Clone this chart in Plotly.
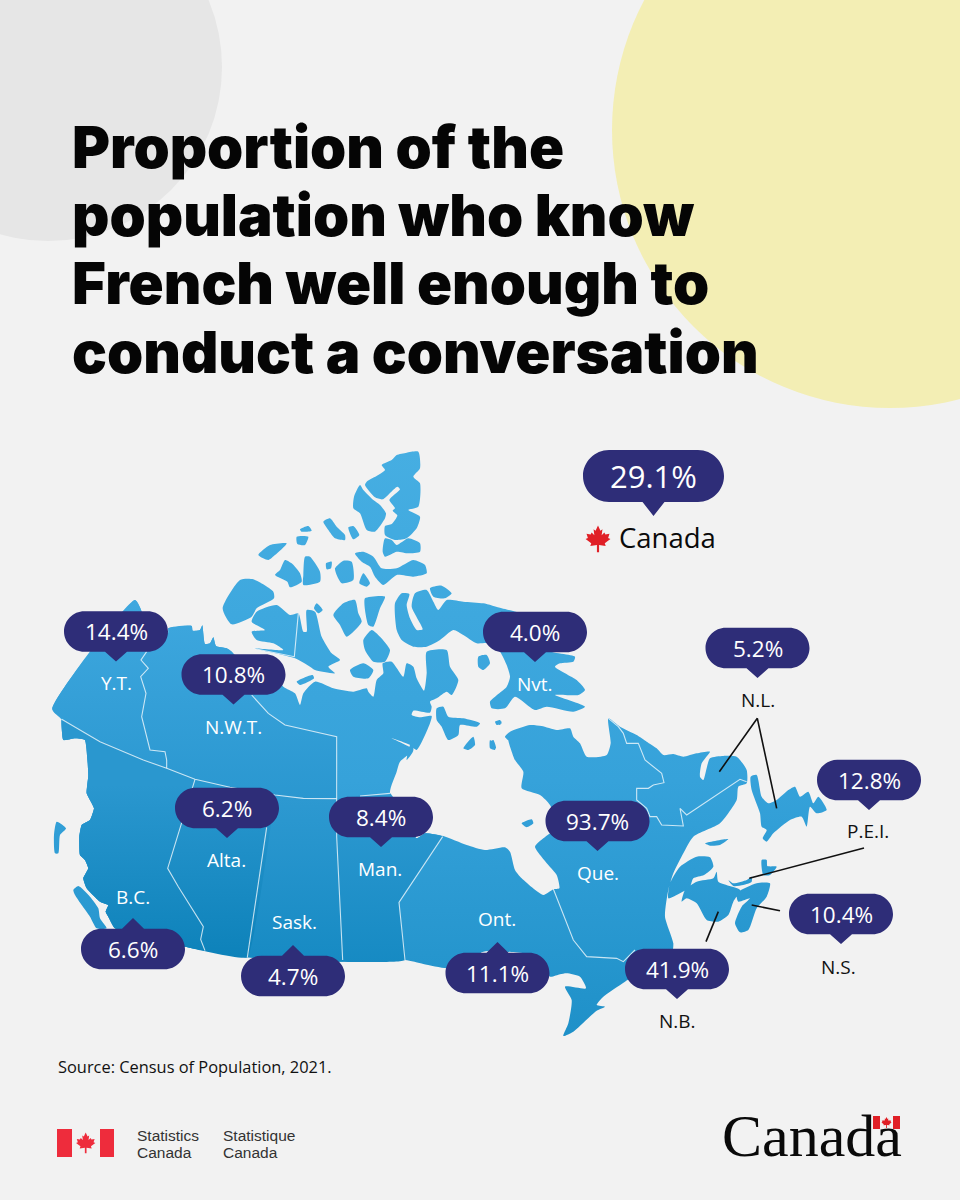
import plotly.graph_objects as go

# --- chart values
REGIONS = ["Y.T.", "N.W.T.", "Nvt.", "N.L.", "P.E.I.", "Que.", "Alta.", "Man.", "B.C.", "Sask.", "Ont.", "N.B.", "N.S."]
SHARES = [14.4, 10.8, 4.0, 5.2, 12.8, 93.7, 6.2, 8.4, 6.6, 4.7, 11.1, 41.9, 10.4]
CANADA_SHARE = 29.1

# centre of each pill and where its label sits, same order as REGIONS
PILL_X = [116, 233.5, 535, 757.5, 869, 597.5, 227, 381, 133, 293, 497.5, 677, 841]
PILL_Y = [631.5, 674.5, 632, 648, 780, 821, 808, 817, 949, 976, 973, 969, 914]
TIP_OFF = [30, 30, 30, 30, 30, 30, 30, 30, -31, -31, -31, 30, 30]
LABEL_X = [116, 233.5, 535, 758, 868, 597.5, 226, 380, 133, 294, 497, 677, 838]
LABEL_Y = [683, 727, 684, 700, 831, 873, 860, 869, 897, 922, 919, 1021, 967]
LABEL_DARK = [False, False, False, True, True, False, False, False, False, False, False, True, True]

TITLE_LINES = ["Proportion of the", "population who know", "French well enough to", "conduct a conversation"]
TITLE_Y = [147, 215, 283, 352]


def crop(x0, y0, pts):
    return [(x0 + a / 3, y0 + b / 3) for a, b in pts]


def z1(pts): return crop(40, 440, pts)
def z2(pts): return crop(200, 440, pts)
def z3(pts): return crop(40, 740, pts)
def z4(pts): return crop(340, 740, pts)
def z5(pts): return crop(480, 600, pts)


north_coast_west = z1([(37, 808), (285, 480), (305, 515), (300, 560), (385, 578), (385, 565), (455, 558), (458, 572),
                       (480, 570), (487, 556), (495, 612), (510, 610), (520, 592), (528, 618), (560, 625), (575, 635),
                       (590, 650), (700, 700)])

coast_bc = z3([(225, 565), (205, 530), (197, 515), (205, 495), (180, 485), (140, 445), (130, 415), (145, 385), (135, 360),
               (120, 345), (118, 290), (125, 255), (150, 240), (162, 205), (140, 160), (145, 105), (135, 0)]) + z1([(105, 895), (70, 900), (65, 840)])

south_coast_west = z4([(195, 660), (0, 665)]) + z3([(620, 652), (435, 620)]) + coast_bc

parallel_60 = z3([(175, 0), (380, 85), (465, 118), (570, 142), (705, 165), (790, 175)])

mainland = (
    north_coast_west
    + z2([(250, 740), (285, 760), (300, 795), (310, 760), (345, 725), (400, 745), (460, 755), (500, 745), (505, 755),
          (520, 770), (530, 720), (550, 700), (548, 670), (575, 665), (610, 710), (620, 670), (640, 680), (650, 715),
          (672, 752), (680, 700), (680, 635), (740, 630), (750, 680), (775, 720), (755, 765), (740, 755), (710, 775),
          (690, 785), (695, 800), (690, 818), (640, 812), (635, 825), (660, 832), (695, 828), (690, 850), (650, 930),
          (630, 915), (575, 895), (640, 930), (620, 960)])
    + z4([(215, 0), (220, 30), (180, 65), (170, 95), (150, 160), (230, 295), (255, 280), (310, 288), (380, 315),
          (435, 330), (495, 322), (510, 335), (525, 390), (545, 415), (610, 465), (640, 448), (658, 445), (650, 405),
          (625, 375), (585, 320), (610, 295), (650, 260), (630, 195), (600, 165), (545, 145), (550, 95), (525, 60),
          (505, 0)])
    + z5([(95, 430), (75, 410), (90, 395), (150, 375), (185, 378), (230, 390), (270, 385), (280, 410), (300, 430),
          (320, 470), (380, 465), (392, 430), (385, 355), (420, 380), (470, 405), (500, 425), (530, 445), (550, 465),
          (580, 462), (610, 470), (650, 460), (690, 455), (665, 490), (660, 530), (670, 540), (690, 475), (730, 468),
          (770, 470), (800, 510), (800, 550), (775, 560), (770, 600), (720, 670), (640, 710), (610, 760), (580, 820),
          (565, 870), (555, 950), (580, 1030), (575, 1060)])
    + z4([(855, 725), (790, 770), (770, 795), (795, 800), (770, 812), (700, 875), (670, 888), (685, 850), (695, 780),
          (675, 740), (738, 745), (720, 710), (680, 700), (660, 703), (630, 710), (600, 650), (500, 635), (450, 632),
          (425, 637), (380, 680), (320, 685), (250, 672)])
    + south_coast_west
)

# the picture's gradient leans toward the south west, so the western
# provinces get their own darker fills on top of the main land fill
nwt_block = north_coast_west + z1([(635, 765), (685, 820), (735, 855), (890, 890), (890, 960)]) + z3([(890, 176)]) + parallel_60[::-1]

prairie_block = (
    z3([(890, 176)])
    + z4([(150, 160), (230, 295), (255, 280), (308, 290), (177, 487)])
    + south_coast_west
    + parallel_60
)

bc_alberta_block = z3([(705, 165), (622, 652), (435, 620)]) + coast_bc + parallel_60[:-1]

baffin = (
    z2([(585, 490), (605, 460), (628, 462), (620, 495), (630, 535), (650, 570), (668, 568), (635, 500), (645, 460),
        (680, 450), (700, 485), (715, 510), (740, 480), (790, 485), (850, 490), (905, 505), (960, 520)])
    + z5([(200, 100), (200, 150), (285, 170), (280, 185), (240, 190), (225, 200), (290, 240), (315, 270), (295, 285),
          (225, 285), (315, 320), (280, 335), (200, 320), (165, 330), (105, 290), (75, 325), (35, 325), (30, 305),
          (80, 260), (90, 230), (80, 195), (60, 155), (25, 130)])
    + z2([(830, 610), (790, 585), (760, 570), (720, 600), (680, 620), (640, 620), (605, 600), (590, 570)])
)

islands = [
    z3([(100, 450), (115, 438), (150, 470), (175, 505), (180, 535), (200, 565), (170, 565), (150, 530), (125, 495), (105, 465)]),
    z3([(50, 245), (78, 265), (60, 285), (55, 340), (45, 340), (42, 285)]),
    z2([(120, 420), (160, 418), (220, 455), (222, 475), (170, 505), (155, 530), (95, 553), (68, 505)]),
    z2([(160, 625), (250, 630), (220, 610), (170, 600), (155, 575), (195, 570), (155, 545), (170, 515), (230, 495),
        (270, 525), (295, 520), (310, 575), (320, 575), (320, 510), (345, 515), (365, 590), (395, 640), (420, 660),
        (385, 680), (405, 700), (345, 690), (330, 680), (285, 655)]),
    z2([(655, 35), (620, 38), (590, 45), (575, 60), (545, 75), (555, 90), (535, 105), (500, 125), (495, 135), (525, 172),
        (548, 178), (592, 140), (600, 148), (568, 180), (585, 205), (578, 212), (592, 226), (575, 252), (555, 258),
        (555, 285), (585, 300), (620, 295), (650, 265), (660, 230), (625, 210), (655, 200), (660, 130), (640, 110), (660, 85)]),
    z2([(480, 135), (462, 170), (460, 205), (480, 220), (500, 270), (525, 275), (555, 235), (558, 220), (540, 195), (520, 180), (490, 150)]),
    z2([(555, 295), (575, 300), (590, 315), (625, 295), (660, 310), (660, 335), (625, 340), (590, 335), (555, 350), (548, 335)]),
    z2([(465, 340), (490, 335), (520, 350), (545, 385), (590, 385), (640, 360), (675, 375), (680, 400), (640, 410),
        (590, 405), (550, 435), (525, 410), (510, 380), (485, 365)]),
    z2([(490, 400), (510, 430), (500, 440), (478, 430)]),
    z2([(175, 345), (210, 315), (260, 310), (225, 345), (205, 360)]),
    z2([(255, 360), (275, 370), (300, 400), (305, 425), (270, 442), (262, 425), (225, 405), (240, 390)]),
    z2([(315, 350), (330, 350), (360, 395), (360, 425), (310, 435), (310, 405)]),
    z2([(370, 245), (390, 235), (410, 260), (435, 285), (435, 300), (405, 295), (385, 270)]),
    z2([(445, 262), (460, 258), (478, 285), (460, 298)]),
    z2([(290, 290), (325, 290), (315, 315), (292, 312)]),
    z2([(300, 268), (325, 258), (335, 272), (305, 275)]),
    z2([(405, 385), (430, 362), (455, 365), (460, 420), (425, 430), (410, 405)]),
    z2([(378, 370), (395, 365), (393, 385), (380, 388)]),
    z2([(400, 525), (430, 490), (465, 480), (475, 520), (485, 545), (440, 590), (420, 555)]),
    z2([(495, 475), (555, 470), (540, 505), (520, 560), (505, 555), (495, 510)]),
    z2([(490, 600), (515, 570), (540, 590), (570, 630), (555, 665), (520, 665), (495, 630)]),
    z2([(450, 690), (490, 670), (520, 690), (505, 715), (460, 710)]),
    z2([(290, 725), (338, 705), (342, 715), (300, 735)]),
    z2([(342, 505), (350, 490), (368, 510), (355, 520)]),
    z2([(835, 650), (860, 645), (870, 670), (850, 690), (835, 680)]),
    z2([(690, 445), (725, 437), (755, 460), (735, 475), (700, 470)]),
    z2([(710, 805), (730, 800), (745, 830), (790, 835), (840, 850), (830, 860), (780, 855), (775, 885), (745, 900), (725, 860), (710, 840)]),
    z2([(790, 925), (820, 890), (825, 915), (805, 930)]),
    z2([(870, 900), (885, 915), (885, 930), (870, 925)]),
    z2([(885, 845), (905, 845), (900, 855)]),
    z4([(545, 250), (575, 238), (580, 250), (560, 262)]),
    z5([(30, 425), (40, 420), (48, 445), (35, 448)]),
    z5([(45, 365), (60, 360), (65, 370), (50, 375)]),
    z5([(675, 730), (745, 717), (720, 735), (690, 737)]),
    z5([(812, 530), (830, 525), (845, 590), (865, 610), (890, 600), (925, 570), (945, 560), (960, 590), (985, 575),
        (1000, 610), (1015, 590), (1040, 630), (1010, 640), (990, 620), (980, 680), (965, 650), (930, 660), (880, 700),
        (860, 725), (848, 715), (860, 690), (845, 680), (840, 640), (815, 570)]),
    z5([(565, 895), (570, 850), (600, 800), (650, 770), (690, 772), (700, 800), (672, 825), (640, 835), (630, 860), (600, 880)]),
    z5([(605, 905), (615, 870), (650, 845), (700, 835), (710, 815), (715, 845), (780, 870), (760, 905), (745, 945),
        (715, 965), (680, 960), (650, 910), (620, 895)]),
    z5([(745, 840), (760, 850), (800, 840), (815, 830), (815, 845), (790, 855), (760, 858)]),
    z5([(845, 780), (860, 780), (862, 798), (890, 800), (870, 825), (850, 825)]),
    z5([(770, 880), (830, 850), (870, 850), (860, 890), (830, 925), (805, 990), (780, 997), (765, 970), (785, 920), (810, 895), (775, 905)]),
]

# white lines between the provinces
borders = [
    z1([(320, 635), (303, 660), (325, 685), (302, 710), (318, 760), (305, 830), (330, 930), (375, 935), (380, 960)]) + z3([(380, 85)]),
    z1([(65, 838), (180, 905), (310, 960)]) + z3([(380, 85), (465, 118), (570, 142), (705, 165), (790, 175), (890, 176)]),
    z1([(635, 765), (685, 820), (735, 855), (890, 890), (890, 960)]) + z3([(890, 176), (890, 290), (908, 660)]),
    z3([(680, 262), (622, 652)]),
    z3([(465, 118), (425, 250), (383, 385), (415, 440), (470, 530), (490, 560), (482, 598), (495, 632)]),
    z4([(60, 168), (150, 160)]),
    z4([(308, 290), (177, 487), (195, 660)]),
    z4([(640, 447), (700, 600), (740, 650), (830, 655), (850, 665), (885, 630)]),
    z5([(385, 355), (415, 380), (430, 400), (440, 430), (475, 430), (495, 480), (545, 520), (552, 548), (520, 555),
        (505, 565), (470, 565), (470, 600), (500, 625), (510, 650), (530, 650), (545, 675), (610, 678), (600, 625),
        (620, 645), (780, 538), (800, 545)]),
    z2([(295, 520), (283, 650), (160, 625)]),
]

# black leader lines to the small eastern provinces
leaders = [
    z5([(718, 515), (832, 355), (890, 625)]),
    z5([(808, 835), (1152, 744)]),
    z5([(815, 915), (900, 932)]),
    z5([(715, 935), (678, 1025)]),
]

LEAF_RIGHT = [(0, -1.0), (0.18, -0.62), (0.33, -0.72), (0.27, -0.28), (0.47, -0.48), (0.55, -0.33), (0.85, -0.38),
              (0.75, -0.08), (0.92, 0.0), (0.5, 0.32), (0.57, 0.52), (0.08, 0.45), (0.08, 0.98)]


def leaf(cx, cy, r):
    half = [(cx + a * r, cy + b * r) for a, b in LEAF_RIGHT]
    return half + [(2 * cx - a, b) for a, b in reversed(half)]


def flatten(polys):
    xs, ys = [], []
    for p in polys:
        xs += [a for a, b in p] + [p[0][0], None]
        ys += [b for a, b in p] + [p[0][1], None]
    return xs, ys


def pill_path(cx, cy, w, h, off):
    # rounded bar with a little pointer, off < 0 points up
    x0, x1 = cx - w / 2, cx + w / 2
    y0, y1 = cy - h / 2, cy + h / 2
    r = h / 2
    k = r * 0.55
    tip = cy + off
    p = f"M{x0 + r},{y0} "
    if off < 0:
        p += f"L{cx - 11},{y0} L{cx},{tip} L{cx + 11},{y0} "
    p += f"L{x1 - r},{y0} C{x1 - r + k},{y0} {x1},{cy - k} {x1},{cy} C{x1},{cy + k} {x1 - r + k},{y1} {x1 - r},{y1} "
    if off > 0:
        p += f"L{cx + 11},{y1} L{cx},{tip} L{cx - 11},{y1} "
    p += f"L{x0 + r},{y1} C{x0 + r - k},{y1} {x0},{cy + k} {x0},{cy} C{x0},{cy - k} {x0 + r - k},{y0} {x0 + r},{y0} Z"
    return p


def add_land(fig, polys, start, stop, scale, smoothing=0.6):
    xs, ys = flatten(polys)
    fig.add_trace(go.Scatter(
        x=xs, y=ys, mode="lines", line=dict(width=0, shape="spline", smoothing=smoothing), fill="toself",
        fillgradient=dict(type="vertical", start=start, stop=stop, colorscale=scale),
        hoverinfo="skip", showlegend=False,
    ))


NAVY = "#2E2D78"
RED = "#EE2C3C"
BG = "#F2F2F2"

fig = go.Figure()

add_land(fig, [mainland, baffin] + islands, 450, 1040, [[0, "#46AEE2"], [0.56, "#36A2DA"], [1, "#1E90C8"]])
add_land(fig, [nwt_block], 600, 800, [[0, "#3FA8DF"], [1, "#2A97D0"]], 0.4)
add_land(fig, [prairie_block], 785, 965, [[0, "#2F9AD2"], [1, "#168AC3"]], 0.3)
add_land(fig, [bc_alberta_block], 785, 965, [[0, "#2A97CF"], [1, "#0C81B9"]], 0.3)

bx, by = [], []
for b in borders:
    bx += [a for a, _ in b] + [None]
    by += [c for _, c in b] + [None]
fig.add_trace(go.Scatter(x=bx, y=by, mode="lines", line=dict(color="rgba(255,255,255,0.75)", width=1.1),
                         hoverinfo="skip", showlegend=False))

lx, ly = [], []
for b in leaders:
    lx += [a for a, _ in b] + [None]
    ly += [c for _, c in b] + [None]
fig.add_trace(go.Scatter(x=lx, y=ly, mode="lines", line=dict(color="#111111", width=1.6),
                         hoverinfo="skip", showlegend=False))

# maple leaves
for cx, cy, r, col in [(598, 539, 13.5, "#E01F26"), (85.7, 1143, 10.5, RED), (886.5, 1122.5, 5.5, "#E01F26")]:
    mx, my = flatten([leaf(cx, cy, r)])
    fig.add_trace(go.Scatter(x=mx, y=my, mode="lines", line=dict(width=0), fill="toself", fillcolor=col,
                             hoverinfo="skip", showlegend=False))

shapes = [
    dict(type="circle", x0=48 - 174, x1=48 + 174, y0=67 - 174, y1=67 + 174, fillcolor="#E6E6E6", line_width=0, layer="below"),
    dict(type="circle", x0=890 - 278, x1=890 + 278, y0=130 - 278, y1=130 + 278, fillcolor="#F3EEB4", line_width=0, layer="below"),
    # Statistics Canada flag
    dict(type="rect", x0=57, x1=72, y0=1129, y1=1157, fillcolor=RED, line_width=0, layer="below"),
    dict(type="rect", x0=100, x1=114, y0=1129, y1=1157, fillcolor=RED, line_width=0, layer="below"),
    # wordmark flag
    dict(type="rect", x0=873, x1=880, y0=1116, y1=1129, fillcolor="#E01F26", line_width=0, layer="above"),
    dict(type="rect", x0=893, x1=900, y0=1116, y1=1129, fillcolor="#E01F26", line_width=0, layer="above"),
    dict(type="path", path=pill_path(653.5, 476, 141, 52, 40), fillcolor=NAVY, line_width=0, layer="above"),
]
for cx, cy, off in zip(PILL_X, PILL_Y, TIP_OFF):
    shapes.append(dict(type="path", path=pill_path(cx, cy, 104, 40.5, off), fillcolor=NAVY, line_width=0, layer="above"))

notes = []
for line, y in zip(TITLE_LINES, TITLE_Y):
    notes.append(dict(x=70, y=y, text=line, xanchor="left", yanchor="middle",
                      font=dict(family="Inter", size=58, color="#050505", weight=900)))
for value, cx, cy in zip(SHARES, PILL_X, PILL_Y):
    notes.append(dict(x=cx, y=cy, text=f"{value:.1f}%", xanchor="center", yanchor="middle",
                      font=dict(family="Open Sans", size=22.5, color="white", weight=500)))
for name, cx, y, dark in zip(REGIONS, LABEL_X, LABEL_Y, LABEL_DARK):
    notes.append(dict(x=cx, y=y, text=name, xanchor="center", yanchor="middle",
                      font=dict(family="Open Sans", size=19, color="#111111" if dark else "white", weight=500)))
notes += [
    dict(x=653.5, y=476, text=f"{CANADA_SHARE:.1f}%", xanchor="center", yanchor="middle",
         font=dict(family="Open Sans", size=31, color="white", weight=500)),
    dict(x=617, y=537, text="Canada", xanchor="left", yanchor="middle",
         font=dict(family="Open Sans", size=27.5, color="#0A0A0A", weight=500)),
    dict(x=56, y=1066, text="Source: Census of Population, 2021.", xanchor="left", yanchor="middle",
         font=dict(family="Open Sans", size=16.4, color="#111111")),
    dict(x=135, y=1135, text="Statistics", xanchor="left", yanchor="middle",
         font=dict(family="Liberation Sans", size=15.5, color="#333333")),
    dict(x=135, y=1152, text="Canada", xanchor="left", yanchor="middle",
         font=dict(family="Liberation Sans", size=15.5, color="#333333")),
    dict(x=221, y=1135, text="Statistique", xanchor="left", yanchor="middle",
         font=dict(family="Liberation Sans", size=15.5, color="#333333")),
    dict(x=221, y=1152, text="Canada", xanchor="left", yanchor="middle",
         font=dict(family="Liberation Sans", size=15.5, color="#333333")),
    dict(x=720, y=1136, text="Canada", xanchor="left", yanchor="middle",
         font=dict(family="Liberation Serif", size=60, color="#0A0A0A")),
]
for n in notes:
    n.update(xref="x", yref="y", showarrow=False)

fig.update_layout(
    width=960, height=1200, margin=dict(l=0, r=0, t=0, b=0),
    paper_bgcolor=BG, plot_bgcolor=BG, showlegend=False,
    xaxis=dict(range=[0, 960], visible=False, fixedrange=True),
    yaxis=dict(range=[1200, 0], visible=False, fixedrange=True),
    shapes=shapes, annotations=notes,
)

# the browser's default body margin would shift the whole picture by 8px
fig.write_html("out.html", config={"displayModeBar": False},
               post_script="document.body.style.margin='0';document.documentElement.style.background='#F2F2F2';")
